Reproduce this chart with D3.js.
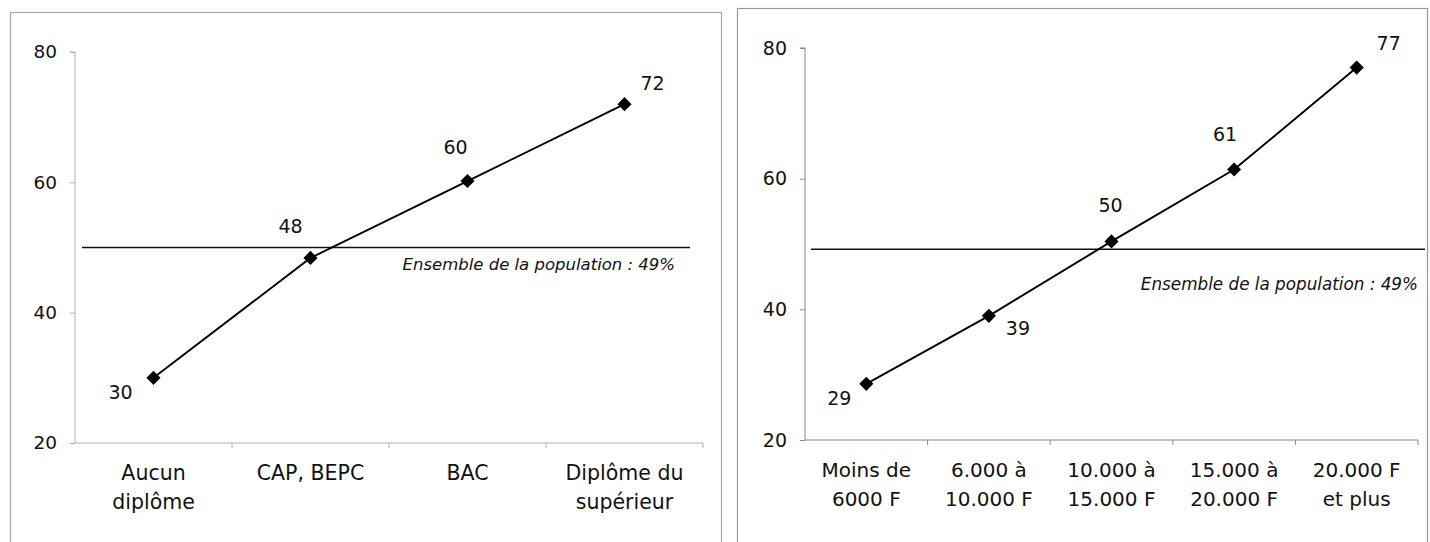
<!DOCTYPE html>
<html><head><meta charset="utf-8">
<script src="https://cdn.jsdelivr.net/npm/d3@7"></script>
<style>
html,body{margin:0;padding:0;background:#fff;}
svg{display:block;}
text{font-family:"DejaVu Sans","Liberation Sans",Arial,sans-serif;fill:#111;}
</style></head>
<body>
<svg id="chart" width="1430" height="542"></svg>
<script>
// ---- data ----
const diplomaCategories = [["Aucun","diplôme"],["CAP, BEPC"],["BAC"],["Diplôme du","supérieur"]];
const diplomaValues = [30, 48.4, 60.2, 72];
const incomeCategories = [["Moins de","6000 F"],["6.000 à","10.000 F"],["10.000 à","15.000 F"],["15.000 à","20.000 F"],["20.000 F","et plus"]];
const incomeValues = [28.6, 39, 50.4, 61.4, 77];
const yTicks = [20, 40, 60, 80];
const referenceLabel = "Ensemble de la population : 49%";
const referenceValues = [50, 49.2];

// ---- layout ----
const svg = d3.select("#chart");
const panels = [
  {cats: diplomaCategories, vals: diplomaValues, ref: referenceValues[0],
   frame:[10,12,721,560], frameColor:"#a8a8a8", axisColor:"#b0b0b0",
   x0:75, x1:703, yTop:52, yBot:443, refX:[82,690], refLabelX:675, refLabelY:270, refFont:16.5,
   catFont:20.5, tickFont:18.5,
   offsets:[[-33,14],[-20,-32],[-12,-34],[28,-21]]},
  {cats: incomeCategories, vals: incomeValues, ref: referenceValues[1],
   frame:[737,8,1427,560], frameColor:"#999", axisColor:"#888",
   x0:805, x1:1418, yTop:48, yBot:440, refX:[811,1425], refLabelX:1418, refLabelY:290, refFont:16.8,
   catFont:20, tickFont:19,
   offsets:[[-27,14],[29,12],[-1,-36],[-9,-36],[32,-25]]}
];

panels.forEach(p => {
  const g = svg.append("g");
  // frame
  g.append("rect").attr("x",p.frame[0]+0.5).attr("y",p.frame[1]+0.5)
    .attr("width",p.frame[2]-p.frame[0]).attr("height",p.frame[3]-p.frame[1])
    .attr("fill","none").attr("stroke",p.frameColor).attr("stroke-width",1.2);

  const x = d3.scaleBand().domain(d3.range(p.cats.length)).range([p.x0,p.x1]).padding(0);
  const y = d3.scaleLinear().domain([20,80]).range([p.yBot,p.yTop]);

  // y axis
  const ya = g.append("g").attr("transform",`translate(${p.x0},0)`)
    .call(d3.axisLeft(y).tickValues(yTicks).tickSize(5).tickPadding(13).tickFormat(d3.format("d")));
  ya.select(".domain").attr("stroke",p.axisColor).attr("d",`M-5,${p.yTop}H0V${p.yBot}`);
  ya.selectAll(".tick line").attr("stroke",p.axisColor);
  ya.selectAll(".tick text").attr("font-size",p.tickFont).attr("fill","#111")
    .style("font-family",'"DejaVu Sans",sans-serif');

  // x axis
  const xa = g.append("g").attr("transform",`translate(0,${p.yBot})`)
    .call(d3.axisBottom(x).tickSize(0).tickFormat(""));
  xa.select(".domain").attr("stroke",p.axisColor).attr("d",`M${p.x0},0H${p.x1}`);
  // boundary ticks
  g.selectAll(".bt").data(d3.range(1,p.cats.length+1)).join("line")
    .attr("x1",i=>p.x0+x.step()*i).attr("x2",i=>p.x0+x.step()*i)
    .attr("y1",p.yBot).attr("y2",p.yBot+5).attr("stroke",p.axisColor);
  // category labels
  p.cats.forEach((lines,i) => {
    const t = g.append("text").attr("text-anchor","middle").attr("font-size",p.catFont)
      .attr("x",x(i)+x.bandwidth()/2).attr("y",p.yBot+37);
    lines.forEach((l,j)=> t.append("tspan").attr("x",x(i)+x.bandwidth()/2).attr("dy", j===0?0:29).text(l));
  });

  // reference line
  g.append("line").attr("x1",p.refX[0]).attr("x2",p.refX[1])
    .attr("y1",y(p.ref)).attr("y2",y(p.ref)).attr("stroke","#111").attr("stroke-width",1.6);
  g.append("text").attr("x",p.refLabelX).attr("y",p.refLabelY).attr("text-anchor","end")
    .attr("font-size",p.refFont).attr("font-style","italic").text(referenceLabel);

  // data line
  const cx = i => x(i)+x.bandwidth()/2;
  g.append("path").datum(p.vals)
    .attr("d", d3.line().x((d,i)=>cx(i)).y(d=>y(d)))
    .attr("fill","none").attr("stroke","#000").attr("stroke-width",1.9);
  g.selectAll(".pt").data(p.vals).join("path")
    .attr("d", d3.symbol(d3.symbolSquare, 100)())
    .attr("transform",(d,i)=>`translate(${cx(i)},${y(d)}) rotate(45)`)
    .attr("fill","#000");
  g.selectAll(".lbl").data(p.vals).join("text")
    .attr("x",(d,i)=>cx(i)+p.offsets[i][0]).attr("y",(d,i)=>y(d)+p.offsets[i][1])
    .attr("text-anchor","middle").attr("dominant-baseline","central")
    .attr("font-size",19).text(d=>d3.format(".0f")(d));
});
</script>
</body></html>
